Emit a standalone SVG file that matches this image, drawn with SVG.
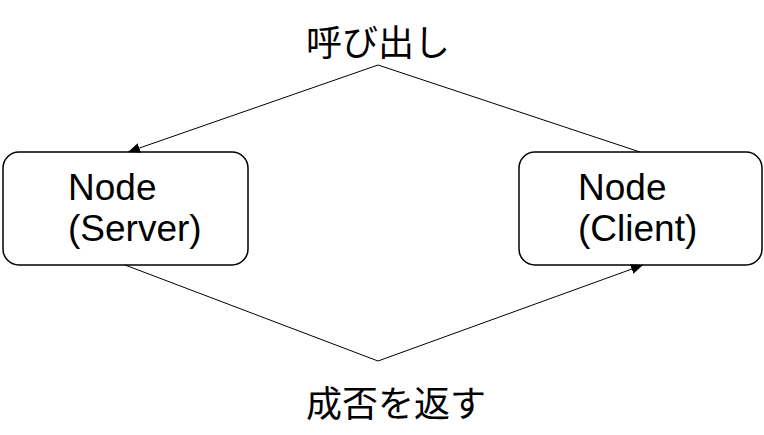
<svg xmlns="http://www.w3.org/2000/svg" width="764" height="435" viewBox="0 0 764 435">
<style>
.box{fill:#fff;stroke:#000;stroke-width:1.5}
.lbl{font-family:"Liberation Sans",Arial,sans-serif;font-size:37px;fill:#000}
.jp{font-family:"Noto Sans CJK JP","Liberation Sans",sans-serif;font-size:36px;fill:#000}
.edge{fill:none;stroke:#000;stroke-width:1}
</style>
<defs>
<marker id="arr" markerWidth="12" markerHeight="10" refX="12" refY="5" orient="auto" markerUnits="userSpaceOnUse">
<path d="M0,0 L12,5 L0,10 Z" fill="#000"/>
</marker>
</defs>
<g id="server">
<rect class="box" x="3" y="152" width="245" height="113" rx="16" ry="16"/>
<text class="lbl" x="68" y="200">Node</text>
<text class="lbl" x="68" y="241">(Server)</text>
</g>
<g id="client">
<rect class="box" x="519" y="152" width="243" height="113" rx="16" ry="16"/>
<text class="lbl" x="578" y="200">Node</text>
<text class="lbl" x="578" y="241">(Client)</text>
</g>
<g id="connectors">
<polyline class="edge" points="640,152 378,65 128,152" marker-end="url(#arr)"/>
<polyline class="edge" points="125,265 378,361 643,265" marker-end="url(#arr)"/>
</g>
<g id="labels">
<text class="jp" x="306" y="56">呼び出し</text>
<text class="jp" x="306" y="417">成否を返す</text>
</g>
</svg>
